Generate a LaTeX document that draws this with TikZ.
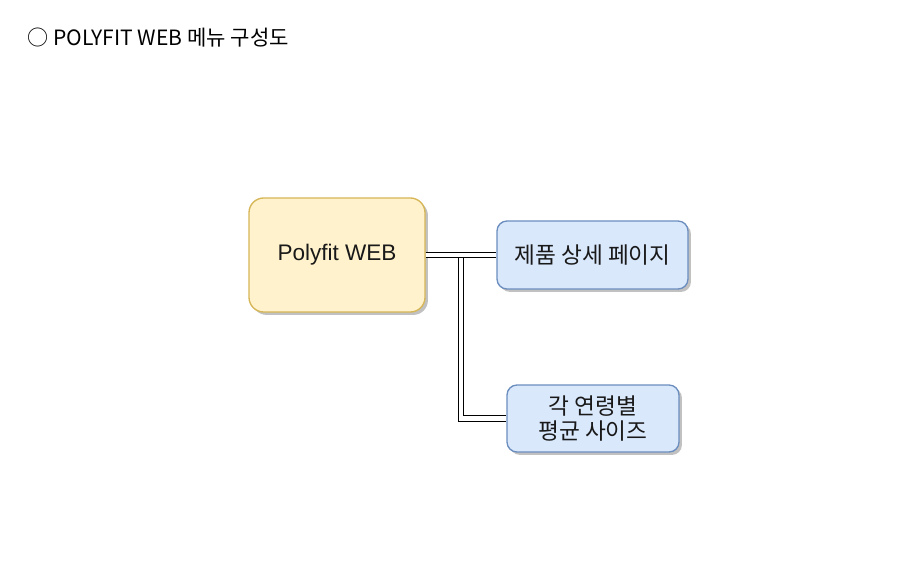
\documentclass[tikz,border=0pt]{standalone}
\usepackage{fontspec}
\setmainfont{Liberation Sans}
\newfontfamily\krfont{Noto Sans CJK KR}
\usetikzlibrary{shadows}
\definecolor{yfill}{HTML}{FFF2CC}
\definecolor{ydraw}{HTML}{D6B656}
\definecolor{bfill}{HTML}{DAE8FC}
\definecolor{bdraw}{HTML}{6C8EBF}
\begin{document}
\begin{tikzpicture}[x=0.75pt,y=-0.75pt,
  boxshadow/.style={drop shadow={shadow xshift=2.2pt,shadow yshift=-2.2pt,opacity=0.4,fill=black!60}},
  webbox/.style={draw=ydraw,fill=yfill,line width=1pt,rounded corners=11pt,boxshadow,
    minimum width=176*0.75pt,minimum height=114*0.75pt,font=\fontsize{16.9}{20}\selectfont,text=black!90},
  menubox/.style={draw=bdraw,fill=bfill,line width=1pt,rounded corners=7.5pt,boxshadow,
    font=\krfont\fontsize{17}{20}\selectfont,text=black!90,align=center},
  dbl/.style={draw=black,double=white,double distance=3.2pt,line width=0.7pt,line join=miter}]
\useasboundingbox[fill=white] (0,0) rectangle (912,570);
\node[anchor=west,font=\krfont\fontsize{15.8}{18}\selectfont,inner sep=0pt] (title) at (27,38) {○ POLYFIT WEB 메뉴 구성도};
\node[webbox] (web) at (337,255) {Polyfit WEB};
\node[menubox,minimum width=191*0.75pt,minimum height=68*0.75pt] (p1) at (592.5,255) {제품 상세 페이지};
\node[menubox,minimum width=172*0.75pt,minimum height=67*0.75pt] (p2) at (593,418.5) {각 연령별\\[-1pt]평균 사이즈};
\coordinate (j) at (461,255);
\draw[dbl] (web.east) -- (j) |- (p2.west);
\draw[dbl] (web.east) -- (p1.west);
\end{tikzpicture}
\end{document}
